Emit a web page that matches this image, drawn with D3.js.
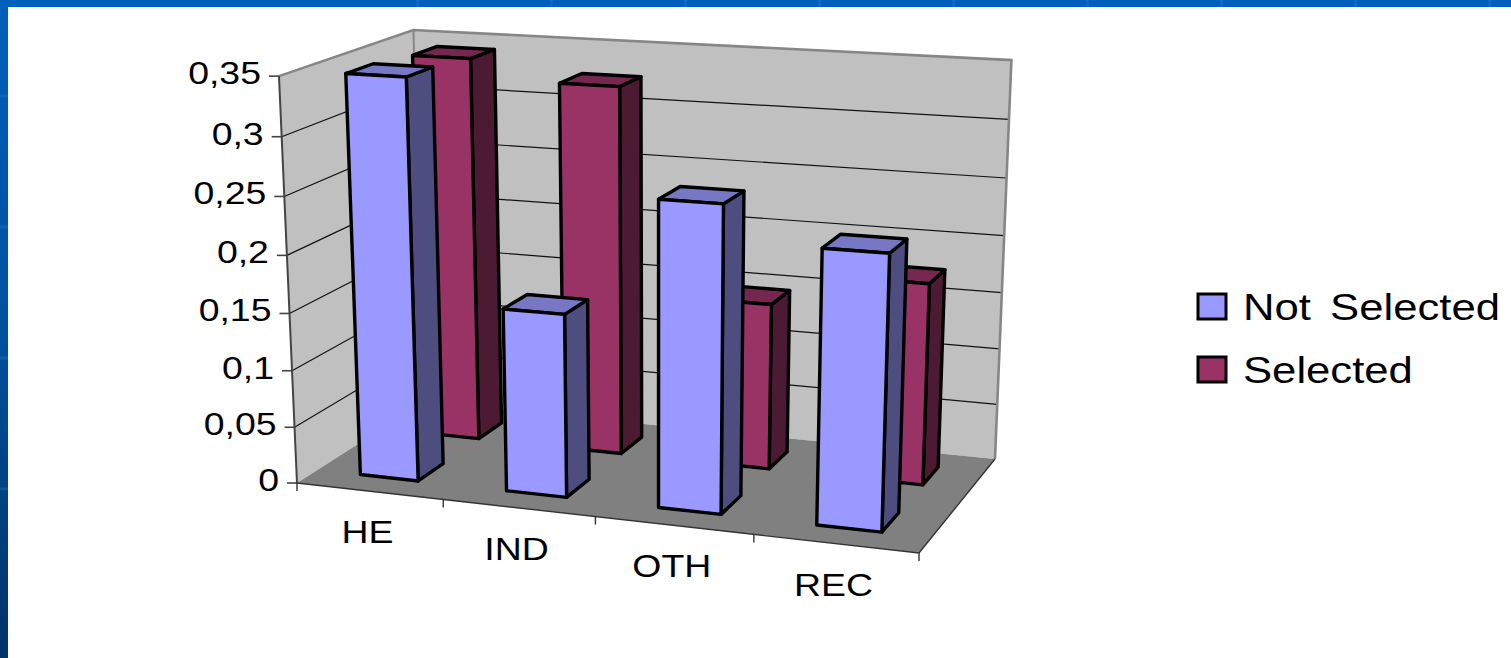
<!DOCTYPE html>
<html>
<head>
<meta charset="utf-8">
<style>
  html, body { margin: 0; padding: 0; background: #fff; overflow: hidden; }
  svg { display: block; }
  text { font-family: "Liberation Sans", Arial, sans-serif; fill: #000; }
</style>
<script src="https://cdn.jsdelivr.net/npm/d3@7"></script>
</head>
<body>
<svg id="chart" width="1511" height="658"></svg>
<script>
const categories = ["HE", "IND", "OTH", "REC"];
const seriesNames = ["Not Selected", "Selected"];
const notSelected = [0.348, 0.159, 0.261, 0.231];
const selected = [0.343, 0.326, 0.147, 0.176];
const yTicks = [0, 0.05, 0.1, 0.15, 0.2, 0.25, 0.3, 0.35];
const yTickLabels = ["0", "0,05", "0,1", "0,15", "0,2", "0,25", "0,3", "0,35"];

const faceColors = {
  "Not Selected": { front: "#9999ff", side: "#4d4d80", top: "#7777c4" },
  "Selected": { front: "#993366", side: "#4d1a33", top: "#76274f" }
};

// Screen positions of the plot box corners; everything else projects through them.
const box = {
  frontLeft: [297, 483], frontRight: [919, 553],
  backLeft: [424, 402], backRight: [995, 459],
  topFrontLeft: [278, 74], topBackLeft: [423, 33], topBackRight: [1011, 64]
};

function solve3(m, b) {
  const det = a => a[0][0] * (a[1][1] * a[2][2] - a[1][2] * a[2][1])
                 - a[0][1] * (a[1][0] * a[2][2] - a[1][2] * a[2][0])
                 + a[0][2] * (a[1][0] * a[2][1] - a[1][1] * a[2][0]);
  const d = det(m);
  return [0, 1, 2].map(c => det(m.map((row, r) => row.map((v, i) => (i === c ? b[r] : v)))) / d);
}

// Perspective camera: floor homography from four corners, vertical column
// fitted by weighted least squares to the three known top corners.
function makeCamera(c) {
  const hom = p => [p[0], p[1], 1];
  const A = hom(c.frontLeft), B = hom(c.frontRight), C = hom(c.backLeft), D = hom(c.backRight);
  const [lb, lc, ld] = solve3([0, 1, 2].map(i => [B[i], C[i], -D[i]]), A);
  const px = B.map((v, i) => lb * v - A[i]);
  const py = C.map((v, i) => lc * v - A[i]);
  const pairs = [
    [c.frontLeft, c.topFrontLeft, 1, 3],
    [c.backLeft, c.topBackLeft, lc, 1],
    [c.backRight, c.topBackRight, ld, 2]
  ];
  const rowsM = [], rowsB = [];
  pairs.forEach(([base, top, w, k]) => {
    rowsM.push([k, 0, -k * top[0]]); rowsB.push(k * w * (top[0] - base[0]));
    rowsM.push([0, k, -k * top[1]]); rowsB.push(k * w * (top[1] - base[1]));
  });
  const mtm = [0, 1, 2].map(i => [0, 1, 2].map(j => d3.sum(rowsM, r => r[i] * r[j])));
  const mtb = [0, 1, 2].map(i => d3.sum(rowsM, (r, k) => r[i] * rowsB[k]));
  const pz = solve3(mtm, mtb);
  return (u, d, h) => {
    const q = [0, 1, 2].map(i => px[i] * u + py[i] * d + pz[i] * h + A[i]);
    return [q[0] / q[2], q[1] / q[2]];
  };
}
const project = makeCamera(box);

const xBand = d3.scaleBand().domain(categories).range([0, 1]);
const xBar = d3.scaleBand().domain(categories).range([0, 1]).paddingInner(0.6).paddingOuter(0.3);
const depthBar = d3.scaleBand().domain(seriesNames).range([0, 1]).paddingInner(0.6).paddingOuter(0.3);
const yScale = d3.scaleLinear().domain([0, 0.35]).range([0, 1]);

const svg = d3.select("#chart");
const defs = svg.append("defs");
const frame = defs.append("linearGradient").attr("id", "frameFill")
  .attr("x1", 0).attr("y1", 0).attr("x2", 0).attr("y2", 1);
frame.append("stop").attr("offset", 0).attr("stop-color", "#0060bd");
frame.append("stop").attr("offset", 0.5).attr("stop-color", "#00509f");
frame.append("stop").attr("offset", 1).attr("stop-color", "#003366");

svg.append("rect").attr("width", 1511).attr("height", 658).attr("fill", "url(#frameFill)");

// Slide frame decoration: small lighter notches along the left and top bands
const notches = svg.append("g").attr("fill", "#2a7fd6").attr("fill-opacity", 0.3);
[96, 227, 358, 489].forEach(y => notches.append("rect").attr("x", 0).attr("y", y - 1.5).attr("width", 8).attr("height", 3));
d3.range(9).forEach(i => notches.append("rect").attr("x", 416 + 134 * i).attr("y", 0).attr("width", 3).attr("height", 7));

svg.append("rect").attr("x", 8).attr("y", 7).attr("width", 1503).attr("height", 651).attr("fill", "#fff");

const line = d3.line();
const poly = pts => line(pts) + "Z";
const plot = svg.append("g");

// Walls and floor
const wall = (pts, fill) => plot.append("path").attr("d", poly(pts)).attr("fill", fill);
wall([project(0, 0, 0), project(0, 1, 0), project(0, 1, 1), project(0, 0, 1)], "#c0c0c0");
wall([project(0, 1, 0), project(1, 1, 0), project(1, 1, 1), project(0, 1, 1)], "#c0c0c0");
wall([project(0, 0, 0), project(1, 0, 0), project(1, 1, 0), project(0, 1, 0)], "#808080");

// Gridlines along both walls
plot.append("g").selectAll("path").data(yTicks.slice(1, -1)).join("path")
  .attr("d", t => line([project(0, 0, yScale(t)), project(0, 1, yScale(t)), project(1, 1, yScale(t))]))
  .attr("fill", "none").attr("stroke", "#111").attr("stroke-width", 1.2);

// Wall outlines
plot.append("path")
  .attr("d", line([project(0, 0, 1), project(0, 1, 1), project(1, 1, 1), project(1, 1, 0)]))
  .attr("fill", "none").attr("stroke", "#868686").attr("stroke-width", 2.6);
plot.append("path").attr("d", line([project(0, 1, 0), project(0, 1, 1)]))
  .attr("fill", "none").attr("stroke", "#868686").attr("stroke-width", 2);
plot.append("path").attr("d", line([project(0, 0, 0), project(0, 0, 1)]))
  .attr("fill", "none").attr("stroke", "#444").attr("stroke-width", 2);
plot.append("path").attr("d", line([project(0, 0, 0), project(1, 0, 0), project(1, 1, 0)]))
  .attr("fill", "none").attr("stroke", "#333").attr("stroke-width", 1.4);

// Value axis ticks and labels
const yAxis = svg.append("g");
yTicks.forEach((t, i) => {
  const [x, y] = project(0, 0, yScale(t));
  yAxis.append("line").attr("x1", x - 10).attr("x2", x).attr("y1", y).attr("y2", y)
    .attr("stroke", "#444").attr("stroke-width", 1.6);
  yAxis.append("text").attr("text-anchor", "end")
    .attr("transform", `translate(${x - 18},${y + 8}) scale(1.17,1)`)
    .attr("font-size", 32).text(yTickLabels[i]);
});

// Category axis ticks and labels
const xAxis = svg.append("g");
[0, 1, 2, 3, 4].forEach(i => {
  const [x, y] = project(i / 4, 0, 0);
  xAxis.append("line").attr("x1", x).attr("x2", x).attr("y1", y).attr("y2", y + 8)
    .attr("stroke", "#333").attr("stroke-width", 1.4);
});
categories.forEach(c => {
  const [x, y] = project(xBand(c) + xBand.bandwidth() / 2, 0, 0);
  xAxis.append("text").attr("text-anchor", "middle")
    .attr("transform", `translate(${x - 2},${y + 52}) scale(1.17,1)`)
    .attr("font-size", 32).text(c);
});

// Columns: the rear series first, then left to right within each series.
const rows = [];
[["Selected", selected], ["Not Selected", notSelected]].forEach(([name, values]) => {
  categories.forEach((c, i) => rows.push({ name, category: c, value: values[i] }));
});

const columns = plot.append("g").selectAll("g").data(rows).join("g")
  .attr("fill", "none").attr("stroke", "#000").attr("stroke-width", 3.4).attr("stroke-linejoin", "round");

columns.each(function (r) {
  const g = d3.select(this);
  const u0 = xBar(r.category), u1 = u0 + xBar.bandwidth();
  const d0 = depthBar(r.name), d1 = d0 + depthBar.bandwidth();
  const h = yScale(r.value);
  const col = faceColors[r.name];
  g.append("path").attr("fill", col.side)
    .attr("d", poly([project(u1, d0, 0), project(u1, d1, 0), project(u1, d1, h), project(u1, d0, h)]));
  g.append("path").attr("fill", col.top)
    .attr("d", poly([project(u0, d0, h), project(u1, d0, h), project(u1, d1, h), project(u0, d1, h)]));
  g.append("path").attr("fill", col.front)
    .attr("d", poly([project(u0, d0, 0), project(u1, d0, 0), project(u1, d0, h), project(u0, d0, h)]));
});

// Legend
const legendY = d3.scalePoint().domain(seriesNames).range([320, 383]);
const legend = svg.append("g").selectAll("g").data(seriesNames).join("g")
  .attr("transform", d => `translate(1197,${legendY(d)})`);
legend.append("rect").attr("x", 1).attr("y", -26).attr("width", 28).attr("height", 25)
  .attr("fill", d => faceColors[d].front).attr("stroke", "#000").attr("stroke-width", 3);
legend.append("text").attr("transform", "translate(46,0) scale(1.18,1)")
  .attr("font-size", 37).attr("word-spacing", 6).text(d => d);
</script>
</body>
</html>
